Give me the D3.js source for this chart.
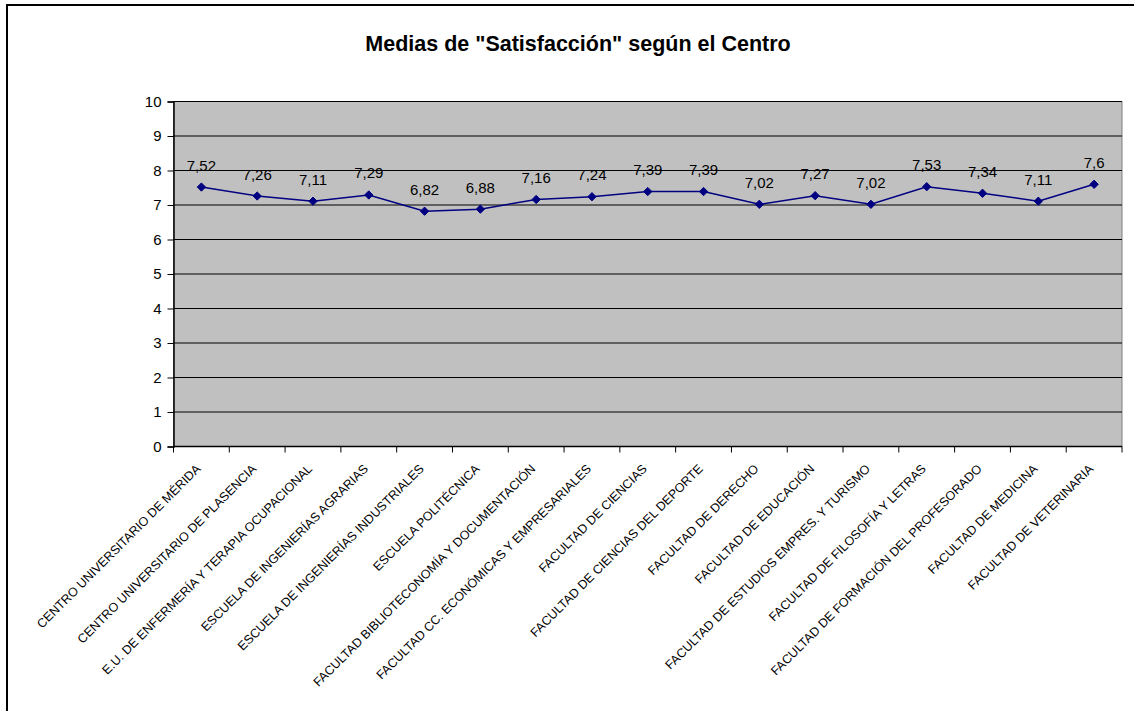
<!DOCTYPE html>
<html>
<head>
<meta charset="utf-8">
<script src="https://cdn.jsdelivr.net/npm/d3@7"></script>
<style>
  html, body { margin: 0; padding: 0; background: #fff; }
  svg { display: block; font-family: "Liberation Sans", Arial, sans-serif; }
</style>
</head>
<body>
<svg id="chart" width="1134" height="711"></svg>
<script>
const title = 'Medias de "Satisfacción" según el Centro';
const categories = [
  "CENTRO UNIVERSITARIO DE MÉRIDA",
  "CENTRO UNIVERSITARIO DE PLASENCIA",
  "E.U. DE ENFERMERÍA Y TERAPIA OCUPACIONAL",
  "ESCUELA DE INGENIERÍAS AGRARIAS",
  "ESCUELA DE INGENIERÍAS INDUSTRIALES",
  "ESCUELA POLITÉCNICA",
  "FACULTAD BIBLIOTECONOMÍA Y DOCUMENTACIÓN",
  "FACULTAD CC. ECONÓMICAS Y EMPRESARIALES",
  "FACULTAD DE CIENCIAS",
  "FACULTAD DE CIENCIAS DEL DEPORTE",
  "FACULTAD DE DERECHO",
  "FACULTAD DE EDUCACIÓN",
  "FACULTAD DE ESTUDIOS EMPRES. Y TURISMO",
  "FACULTAD DE FILOSOFÍA Y LETRAS",
  "FACULTAD DE FORMACIÓN DEL PROFESORADO",
  "FACULTAD DE MEDICINA",
  "FACULTAD DE VETERINARIA"
];
const values = [7.52, 7.26, 7.11, 7.29, 6.82, 6.88, 7.16, 7.24, 7.39, 7.39, 7.02, 7.27, 7.02, 7.53, 7.34, 7.11, 7.6];
const yTicks = [0, 1, 2, 3, 4, 5, 6, 7, 8, 9, 10];

const svg = d3.select("#chart");
const plot = { left: 173.5, right: 1122, top: 101.5, bottom: 446.5 };

// outer frame
svg.append("rect")
  .attr("x", 7).attr("y", 5).attr("width", 1140).attr("height", 720)
  .attr("fill", "#fff").attr("stroke", "#000").attr("stroke-width", 2);

// title
svg.append("text")
  .attr("x", 578).attr("y", 51)
  .attr("text-anchor", "middle")
  .attr("font-size", 21.5).attr("font-weight", "bold")
  .text(title);

const x = d3.scaleBand().domain(categories).range([plot.left, plot.right]).paddingInner(0).paddingOuter(0);
const y = d3.scaleLinear().domain([0, 10]).range([plot.bottom, plot.top]);

// plot background
svg.append("rect")
  .attr("x", plot.left).attr("y", plot.top)
  .attr("width", plot.right - plot.left).attr("height", plot.bottom - plot.top)
  .attr("fill", "#C0C0C0").attr("stroke", "#808080").attr("stroke-width", 1);

// gridlines
svg.append("g").selectAll("line").data(yTicks.filter(d => d > 0)).join("line")
  .attr("x1", plot.left).attr("x2", plot.right)
  .attr("y1", d => y(d)).attr("y2", d => y(d))
  .attr("stroke", "#000").attr("stroke-width", 1);

// y axis
const yAxis = d3.axisLeft(y).tickValues(yTicks).tickSize(6).tickPadding(6).tickFormat(d3.format("d"));
const gy = svg.append("g").attr("transform", `translate(${plot.left},0)`).call(yAxis);
gy.select(".domain").attr("stroke", "#000").attr("stroke-width", 1.5);
gy.selectAll(".tick line").attr("stroke", "#000");
gy.selectAll(".tick text").attr("font-size", 15).attr("fill", "#000")
  .attr("font-family", "Liberation Sans, Arial, sans-serif");

// x axis line and ticks at category boundaries
svg.append("line")
  .attr("x1", plot.left).attr("x2", plot.right)
  .attr("y1", plot.bottom).attr("y2", plot.bottom)
  .attr("stroke", "#000").attr("stroke-width", 1.5);
const boundaries = categories.map(c => x(c)).concat([plot.right]);
svg.append("g").selectAll("line").data(boundaries).join("line")
  .attr("x1", d => d).attr("x2", d => d)
  .attr("y1", plot.bottom).attr("y2", plot.bottom + 6)
  .attr("stroke", "#000");

// category labels
svg.append("g").selectAll("text").data(categories).join("text")
  .attr("transform", d => `translate(${x(d) + x.bandwidth() / 2},${plot.bottom + 23}) rotate(-45)`)
  .attr("text-anchor", "end")
  .attr("font-size", 12.5)
  .attr("fill", "#000")
  .text(d => d);

// line
const line = d3.line()
  .x((d, i) => x(categories[i]) + x.bandwidth() / 2)
  .y(d => y(d));
svg.append("path").datum(values)
  .attr("d", line)
  .attr("fill", "none").attr("stroke", "#000080").attr("stroke-width", 1.5);

// markers
svg.append("g").selectAll("path").data(values).join("path")
  .attr("transform", (d, i) => `translate(${x(categories[i]) + x.bandwidth() / 2},${y(d)})`)
  .attr("d", d3.symbol().type(d3.symbolDiamond2).size(44))
  .attr("fill", "#000080").attr("stroke", "#000080");

// data labels
svg.append("g").selectAll("text").data(values).join("text")
  .attr("x", (d, i) => x(categories[i]) + x.bandwidth() / 2)
  .attr("y", d => y(d) - 16.5)
  .attr("text-anchor", "middle")
  .attr("font-size", 15)
  .attr("fill", "#000")
  .text(d => String(d).replace(".", ","));
</script>
</body>
</html>
